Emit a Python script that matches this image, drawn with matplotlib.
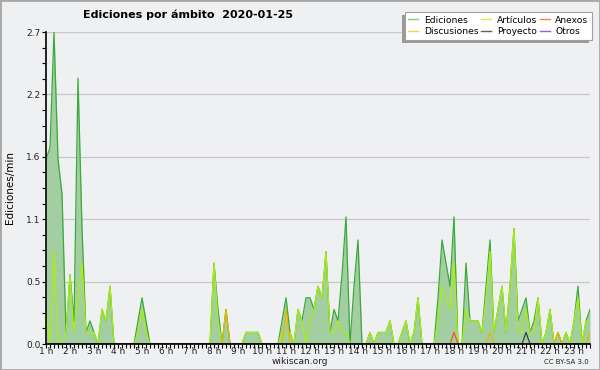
import numpy as np
import matplotlib.pyplot as plt
from matplotlib.ticker import FixedLocator, MultipleLocator, FuncFormatter
from matplotlib.patches import Rectangle
from matplotlib.lines import Line2D

# ediciones por minuto, franjas de 10 min desde la 1 h
ediciones = [
    1.6, 1.7, 2.7, 1.6, 1.3, 0.1, 0.6, 0.2, 2.3, 1.0, 0.1, 0.2,
    0.1, 0.0, 0.3, 0.2, 0.5, 0.0, 0.0, 0.0, 0.0, 0.0, 0.0, 0.2,
    0.4, 0.2, 0.0, 0.0, 0.0, 0.0, 0.0, 0.0, 0.0, 0.0, 0.0, 0.0,
    0.0, 0.0, 0.0, 0.0, 0.0, 0.0, 0.7, 0.3, 0.0, 0.3, 0.0, 0.0,
    0.0, 0.0, 0.1, 0.1, 0.1, 0.1, 0.0, 0.0, 0.0, 0.0, 0.0, 0.2,
    0.4, 0.1, 0.0, 0.3, 0.2, 0.4, 0.4, 0.3, 0.5, 0.4, 0.8, 0.1,
    0.3, 0.2, 0.6, 1.1, 0.0, 0.5, 0.9, 0.0, 0.0, 0.1, 0.0, 0.1,
    0.1, 0.1, 0.2, 0.0, 0.0, 0.1, 0.2, 0.0, 0.1, 0.4, 0.0, 0.0,
    0.0, 0.0, 0.4, 0.9, 0.7, 0.5, 1.1, 0.0, 0.0, 0.7, 0.2, 0.2,
    0.2, 0.1, 0.5, 0.9, 0.1, 0.3, 0.5, 0.1, 0.5, 1.0, 0.2, 0.3,
    0.4, 0.1, 0.2, 0.4, 0.0, 0.1, 0.3, 0.0, 0.1, 0.0, 0.1, 0.0,
    0.2, 0.5, 0.0, 0.2, 0.3,
]
articulos = [
    0.3, 0.0, 0.8, 0.0, 0.0, 0.1, 0.6, 0.1, 0.4, 0.7, 0.1, 0.1,
    0.1, 0.0, 0.3, 0.2, 0.5, 0.0, 0.0, 0.0, 0.0, 0.0, 0.0, 0.1,
    0.3, 0.1, 0.0, 0.0, 0.0, 0.0, 0.0, 0.0, 0.0, 0.0, 0.0, 0.0,
    0.0, 0.0, 0.0, 0.0, 0.0, 0.0, 0.7, 0.2, 0.0, 0.0, 0.0, 0.0,
    0.0, 0.0, 0.1, 0.1, 0.1, 0.1, 0.0, 0.0, 0.0, 0.0, 0.0, 0.1,
    0.1, 0.1, 0.0, 0.3, 0.2, 0.0, 0.2, 0.3, 0.5, 0.4, 0.8, 0.1,
    0.1, 0.2, 0.1, 0.1, 0.0, 0.0, 0.0, 0.0, 0.0, 0.1, 0.0, 0.1,
    0.1, 0.1, 0.2, 0.0, 0.0, 0.1, 0.2, 0.0, 0.1, 0.4, 0.0, 0.0,
    0.0, 0.0, 0.2, 0.5, 0.4, 0.3, 0.7, 0.0, 0.0, 0.3, 0.2, 0.2,
    0.2, 0.1, 0.4, 0.8, 0.1, 0.3, 0.5, 0.1, 0.5, 1.0, 0.1, 0.1,
    0.3, 0.1, 0.1, 0.4, 0.0, 0.1, 0.3, 0.0, 0.0, 0.0, 0.1, 0.0,
    0.2, 0.4, 0.0, 0.2, 0.2,
]
# series casi vacias: hora de la franja y valor
discusiones_horas = ["08:30", "11:00", "19:30", "22:20", "23:40"]
discusiones_valores = [0.3, 0.3, 0.1, 0.1, 0.1]
anexos_horas = ["18:00"]
anexos_valores = [0.1]
proyecto_horas = ["21:00"]
proyecto_valores = [0.1]
otros_horas = []
otros_valores = []

inicio = 1
t = inicio + np.arange(len(ediciones)) / 6


def serie(horas, valores):
    s = np.zeros(len(t))
    for h, v in zip(horas, valores):
        hh, mm = map(int, h.split(":"))
        s[round((hh + mm / 60 - inicio) * 6)] = v
    return s


discusiones = serie(discusiones_horas, discusiones_valores)
anexos = serie(anexos_horas, anexos_valores)
proyecto = serie(proyecto_horas, proyecto_valores)
otros = serie(otros_horas, otros_valores)

bg = '#eff0f2'
fig = plt.figure(figsize=(6, 3.7), dpi=100, facecolor=bg)
ax = fig.add_axes([46 / 600, 26 / 370, 544 / 600, 312 / 370])
ax.set_facecolor(bg)

ax.fill_between(t, ediciones, color='#a2cea2', lw=0, zorder=1)
ax.plot(t, ediciones, color='#3aaa3a', lw=0.9, zorder=2)
ax.plot(t, articulos, color='#aaee10', lw=0.9, zorder=2.1)
ax.plot(t, discusiones, color='#f0b400', lw=0.9, zorder=2.2)
ax.plot(t, anexos, color='#f05a20', lw=0.9, zorder=2.2)
ax.plot(t, proyecto, color='#404040', lw=0.9, zorder=2.2)
ax.plot(t, otros, color='#9040e0', lw=0.9, zorder=2.2)

ax.set_xlim(t[0], t[-1])
ax.set_ylim(0, 2.7)

ax.yaxis.set_major_locator(FixedLocator(np.linspace(0, 2.7, 6)))
ax.yaxis.set_minor_locator(MultipleLocator(0.135))
ax.yaxis.set_major_formatter(FuncFormatter(lambda v, p: '%.1f' % v))
ax.xaxis.set_major_locator(FixedLocator(range(1, 24)))
ax.xaxis.set_minor_locator(MultipleLocator(1 / 6))
ax.xaxis.set_major_formatter(FuncFormatter(lambda v, p: '%d h' % round(v)))

ax.grid(axis='y', color='#c8c8c8', lw=0.9, zorder=0.5)
ax.set_axisbelow(True)
for s in ['top', 'right']:
    ax.spines[s].set_visible(False)
for s in ['left', 'bottom']:
    ax.spines[s].set_linewidth(1.2)
    ax.spines[s].set_zorder(3)

ax.tick_params(axis='both', which='both', direction='out', length=3,
               width=0.8, labelsize=6.5, colors='black', labelcolor='#222')
ax.tick_params(axis='x', which='both', pad=-0.5)
ax.tick_params(axis='y', which='both', pad=1)

fig.text(188 / 600, 1 - 15 / 370, 'Ediciones por ámbito  2020-01-25',
         ha='center', va='center', fontsize=8, fontweight='bold')
fig.text(10 / 600, 1 - 188 / 370, 'Ediciones/min', rotation=90,
         ha='center', va='center', fontsize=7.5)
fig.text(300 / 600, 1 - 362 / 370, 'wikiscan.org', ha='center',
         va='center', fontsize=6.5, color='#222')
fig.text(589 / 600, 1 - 362 / 370, 'CC BY-SA 3.0', ha='right',
         va='center', fontsize=5, color='#222')

nombres = ['Ediciones', 'Discusiones', 'Artículos', 'Proyecto', 'Anexos', 'Otros']
colores = ['#7fd07f', '#f4d24c', '#c8f050', '#606060', '#f48050', '#9060f0']
handles = [Line2D([], [], color=c, lw=1.0) for c in colores]
leg = ax.legend(handles, nombres, ncol=3, loc='upper right',
                bbox_to_anchor=(592 / 600, 1 - 12 / 370),
                bbox_transform=fig.transFigure, fontsize=6.6,
                frameon=True, fancybox=False, edgecolor='#a0a0a0',
                handlelength=1.1, handletextpad=0.6, columnspacing=0.3,
                labelspacing=0.25, borderpad=0.4, borderaxespad=0)
leg.get_frame().set_linewidth(0.8)
leg.get_frame().set_alpha(1)
leg.set_zorder(10)

fig.canvas.draw()
bb = leg.get_window_extent()
ax.add_patch(Rectangle(((bb.x0 - 3) / 600, (bb.y0 - 3) / 370),
                       bb.width / 600, bb.height / 370,
                       transform=fig.transFigure, color='#9a9a9a',
                       lw=0, zorder=9, clip_on=False))
fig.add_artist(Rectangle((0, 0), 1, 1, transform=fig.transFigure,
                         fill=False, ec='#a8a8a8', lw=2))

fig.savefig('out.png', dpi=100, facecolor=bg)
